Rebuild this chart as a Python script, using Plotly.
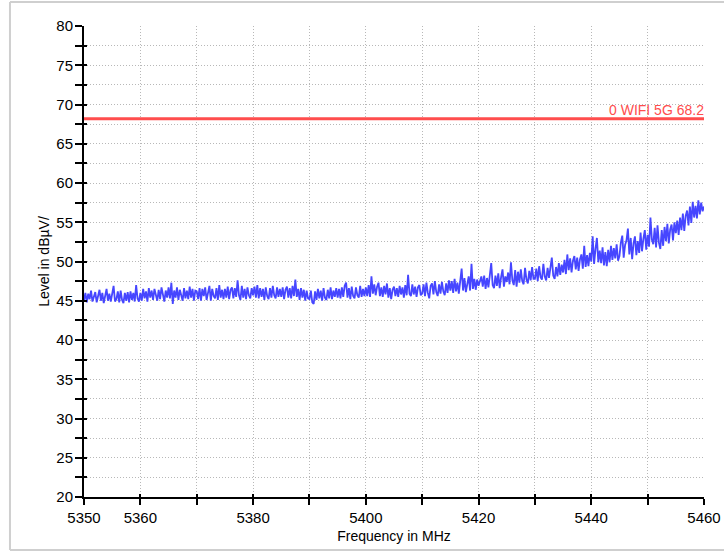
import plotly.graph_objects as go

# ---- data ----
freq_start = 5350.0
freq_step = 0.25
level_dbuv = [
    45.1, 46.0, 44.8, 45.9, 45.2, 46.3, 44.9, 45.7, 46.1, 44.8, 45.8, 46.4, 45.0, 46.0, 44.7, 45.6, 46.5, 45.0, 45.9, 44.9,
    46.1, 46.9, 44.9, 45.2, 46.2, 44.8, 46.3, 45.1, 44.7, 46.0, 45.0, 46.1, 44.8, 46.2, 45.1, 46.0, 44.9, 47.0, 45.3, 44.9,
    46.0, 45.0, 46.5, 45.3, 46.2, 44.9, 46.6, 45.4, 46.3, 45.1, 46.5, 45.5, 45.0, 46.4, 45.2, 46.7, 45.6, 44.9, 46.3, 45.4,
    46.7, 45.3, 47.3, 44.6, 46.3, 45.4, 46.7, 45.1, 46.4, 45.6, 45.0, 46.6, 45.3, 46.3, 45.2, 46.8, 45.4, 46.5, 45.0, 46.3,
    46.2, 45.2, 46.6, 45.0, 46.5, 45.6, 46.7, 45.1, 46.2, 46.9, 45.0, 46.5, 45.6, 45.3, 46.6, 45.1, 47.0, 45.4, 46.4, 45.2,
    46.5, 45.4, 46.8, 45.2, 46.4, 46.7, 45.3, 46.6, 45.5, 47.6, 45.7, 45.1, 46.9, 45.4, 46.5, 45.2, 46.7, 45.7, 45.3, 46.6,
    45.7, 46.8, 45.4, 47.0, 45.3, 46.6, 45.5, 46.5, 45.1, 46.7, 45.6, 45.2, 46.6, 45.4, 46.9, 45.7, 45.3, 46.7, 45.5, 46.5,
    45.5, 46.7, 45.2, 46.4, 46.8, 45.4, 46.6, 45.3, 46.9, 45.6, 47.7, 45.5, 46.5, 45.1, 46.6, 45.4, 46.4, 45.0, 46.3, 45.3,
    45.2, 46.3, 44.8, 44.6, 46.2, 45.1, 46.5, 45.3, 46.3, 45.0, 46.6, 45.4, 45.1, 46.4, 45.3, 46.7, 45.2, 46.3, 45.5, 46.6,
    45.4, 46.5, 45.3, 46.7, 45.5, 46.9, 47.3, 45.4, 46.6, 45.2, 46.8, 45.6, 45.3, 46.7, 45.7, 45.4, 46.9, 45.5, 46.5, 45.6,
    46.7, 45.6, 47.0, 45.5, 48.1, 45.9, 47.1, 45.7, 46.8, 47.3, 45.6, 46.7, 45.5, 46.9, 45.8, 47.2, 45.4, 46.6, 45.2, 46.4,
    46.8, 45.6, 46.6, 45.5, 46.9, 45.8, 46.7, 45.4, 47.0, 45.7, 48.3, 45.9, 45.6, 47.1, 45.8, 46.8, 45.5, 46.7, 47.0, 45.7,
    45.9, 47.1, 45.6, 47.3, 46.0, 45.3, 46.9, 47.2, 45.8, 47.5, 46.1, 45.6, 47.1, 45.9, 47.4, 46.2, 45.7, 47.2, 46.0, 47.6,
    46.3, 47.5, 46.0, 47.8, 46.2, 47.3, 45.9, 47.6, 49.1, 46.3, 47.9, 46.1, 47.4, 48.1, 46.3, 49.7, 46.5, 47.8, 46.4, 47.7,
    46.9, 47.4, 48.1, 46.8, 48.2, 46.5, 47.9, 46.7, 48.3, 49.8, 47.0, 46.6, 48.2, 46.9, 48.5, 46.6, 48.0, 49.0, 46.8, 48.1,
    47.4, 48.6, 47.1, 49.9, 47.6, 47.0, 48.9, 46.8, 48.7, 47.3, 49.0, 47.5, 47.1, 49.2, 47.7, 47.2, 48.8, 47.6, 49.3, 47.8,
    47.8, 49.1, 47.5, 49.4, 48.0, 47.7, 49.7, 48.1, 47.6, 49.2, 47.9, 49.5, 50.5, 48.2, 47.8, 49.3, 48.1, 49.8, 48.3, 49.6,
    48.6, 50.2, 48.4, 50.9, 48.9, 50.4, 48.6, 50.1, 50.7, 49.0, 50.5, 48.8, 50.3, 50.9, 49.1, 52.0, 49.3, 50.8, 49.4, 51.1,
    50.0, 53.2, 49.7, 51.6, 53.0, 49.9, 51.4, 49.8, 51.8, 49.5, 51.2, 49.4, 51.5, 49.9, 52.0, 50.2, 51.7, 50.4, 52.2, 50.1,
    50.7, 52.4, 53.3, 50.5, 52.1, 52.7, 54.2, 50.9, 53.0, 50.3, 52.3, 53.2, 50.8, 52.6, 51.1, 53.7, 51.3, 52.9, 54.0, 51.5,
    53.4, 51.9, 55.6, 52.8, 52.2, 54.3, 51.8, 54.6, 52.4, 51.6, 54.0, 52.0, 54.4, 52.6, 54.8, 52.3, 54.1, 54.7, 52.7, 55.0,
    53.6, 55.2, 53.4, 55.6, 54.0, 56.1, 53.9, 55.8, 56.5, 54.6, 57.0, 54.9, 57.6, 55.6, 57.1, 55.5, 57.8, 56.0, 57.5, 56.4,
    57.0,
]
frequency_mhz = [freq_start + freq_step * i for i in range(len(level_dbuv))]

limit_name = "0 WIFI 5G 68.2"
limit_value = 68.2
limit_freqs = [5350, 5460]

x_tick_vals = [5350, 5360, 5370, 5380, 5390, 5400, 5410, 5420, 5430, 5440, 5450, 5460]
x_tick_text = ["5350", "5360", "", "5380", "", "5400", "", "5420", "", "5440", "", "5460"]

# ---- figure ----
FONT = "Liberation Sans, Arial, sans-serif"
GRID = "#b8b8b8"
GRID_DASH = "1px,2px"

fig = go.Figure()
fig.add_trace(go.Scatter(
    x=frequency_mhz, y=level_dbuv, mode="lines",
    line=dict(color="#4646ff", width=1.8), showlegend=False, hoverinfo="skip"))
fig.add_trace(go.Scatter(
    x=limit_freqs, y=[limit_value, limit_value], mode="lines",
    line=dict(color="#ff4d4d", width=3), showlegend=False, hoverinfo="skip"))
# helper trace for inner tick axes
fig.add_trace(go.Scatter(x=[5350], y=[20], xaxis="x2", yaxis="y2", mode="markers",
                         marker=dict(opacity=0), showlegend=False, hoverinfo="skip"))

fig.add_annotation(x=5460, y=limit_value, xref="x", yref="y", text=limit_name,
                   showarrow=False, xanchor="right", yanchor="bottom", yshift=-1, xshift=2,
                   font=dict(family=FONT, size=14, color="#ff4d4d"))

fig.update_layout(
    width=724, height=554,
    margin=dict(l=84, r=20, t=26, b=57, autoexpand=False),
    paper_bgcolor="white", plot_bgcolor="white",
    font=dict(family=FONT, color="black"),
    xaxis=dict(
        range=[5350, 5460], tickmode="array", tickvals=x_tick_vals, ticktext=x_tick_text,
        showline=True, linecolor="black", linewidth=2, automargin=False,
        ticks="outside", ticklen=6, tickwidth=1.5, tickcolor="black",
        showgrid=True, gridcolor=GRID, griddash=GRID_DASH, gridwidth=1,
        zeroline=False, tickfont=dict(size=15, family=FONT), ticklabelstandoff=0,
        title=dict(text="Frequency in MHz", font=dict(size=14, family=FONT), standoff=6),
    ),
    yaxis=dict(
        range=[20, 80], tick0=20, dtick=5, automargin=False,
        showline=True, linecolor="black", linewidth=2,
        ticks="outside", ticklen=7, tickwidth=2, tickcolor="black",
        showgrid=True, gridcolor=GRID, griddash=GRID_DASH, gridwidth=1,
        zeroline=False, tickfont=dict(size=15, family=FONT), ticklabelstandoff=-1,
        minor=dict(dtick=2.5, tick0=20, ticks="outside", ticklen=7, tickwidth=2, tickcolor="black",
                   showgrid=True, gridcolor=GRID, griddash=GRID_DASH, gridwidth=1),
        title=dict(text="Level in dBµV/", font=dict(size=14, family=FONT), standoff=3),
    ),
    xaxis2=dict(range=[5350, 5460], overlaying="x", anchor="y2", side="bottom", automargin=False,
                tickmode="array", tickvals=x_tick_vals, ticks="inside", ticklen=3, tickwidth=1.5,
                tickcolor="black", showticklabels=False, showgrid=False, showline=False, zeroline=False),
    yaxis2=dict(range=[20, 80], overlaying="y", anchor="x2", side="left", tick0=20, dtick=2.5,
                automargin=False,
                ticks="inside", ticklen=3, tickwidth=2, tickcolor="black",
                showticklabels=False, showgrid=False, showline=False, zeroline=False),
    shapes=[
        dict(type="line", xref="paper", yref="paper", x0=-0.1194, x1=-0.1194, y0=-0.1125, y1=1.051,
             line=dict(color="#cfcfcf", width=2)),
        dict(type="line", xref="paper", yref="paper", x0=-0.1194, x1=1.04, y0=1.051, y1=1.051,
             line=dict(color="#cfcfcf", width=2)),
        dict(type="line", xref="paper", yref="paper", x0=-0.1194, x1=1.04, y0=-0.1125, y1=-0.1125,
             line=dict(color="#cfcfcf", width=2)),
    ],
)

fig.write_html("out.html", config={"displayModeBar": False},
               post_script="document.body.style.margin='0px';")
